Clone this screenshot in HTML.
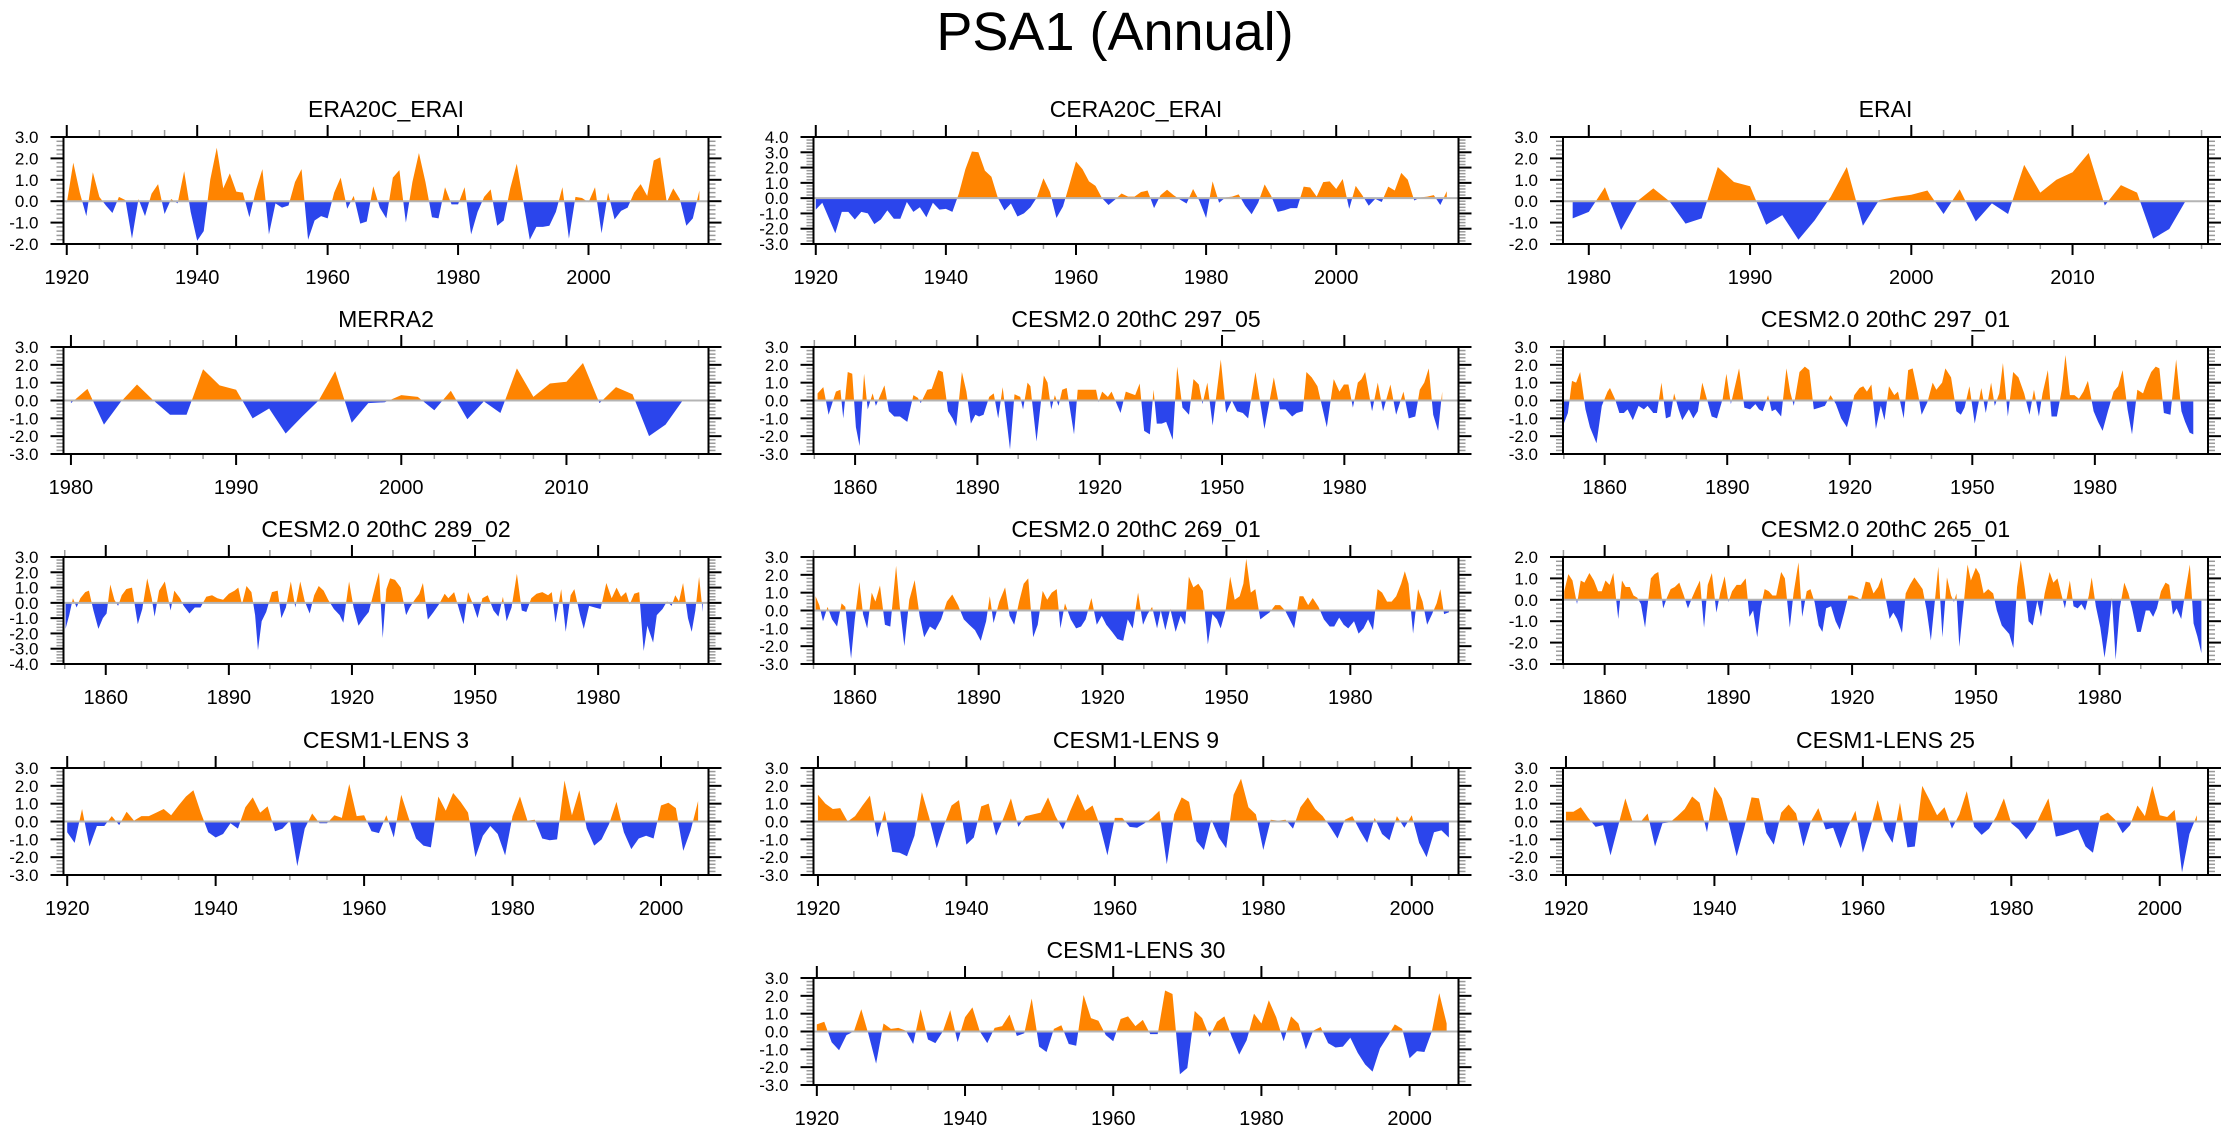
<!DOCTYPE html>
<html><head><meta charset="utf-8"><title>PSA1 (Annual)</title>
<style>
html,body{margin:0;padding:0;background:#fff;}
svg{display:block;font-family:"Liberation Sans",Arial,sans-serif;}
</style></head>
<body>
<svg id="fig" width="2230" height="1133" viewBox="0 0 2230 1133" xmlns="http://www.w3.org/2000/svg">
<rect x="0" y="0" width="2230" height="1133" fill="#fff"/>
<text x="1115" y="50" font-size="54" text-anchor="middle" fill="#000">PSA1 (Annual)</text>
<defs id="defs"></defs>
</svg>
<script>
// ---------- data ----------
const era20cVals = [-0.1,1.8,0.4,-0.7,1.35,0.2,-0.2,-0.55,0.2,0.05,-1.75,0.1,-0.7,0.35,0.8,-0.6,0.1,-0.1,1.4,-0.5,-1.85,-1.4,1.0,2.5,0.6,1.3,0.45,0.4,-0.75,0.5,1.5,-1.55,-0.1,-0.3,-0.2,0.9,1.5,-1.8,-0.9,-0.7,-0.8,0.4,1.1,-0.35,0.25,-1.05,-0.95,0.7,-0.3,-0.8,1.1,1.45,-1.0,0.9,2.25,0.9,-0.75,-0.8,0.65,-0.15,-0.15,0.65,-1.55,-0.5,0.2,0.55,-1.15,-0.9,0.6,1.75,0.0,-1.8,-1.2,-1.2,-1.15,-0.5,0.65,-1.75,0.2,0.15,-0.05,0.65,-1.5,0.4,-0.85,-0.45,-0.3,0.4,0.8,0.25,1.9,2.05,-0.05,0.6,0.1,-1.15,-0.8,0.5];
const ceraVals = [-0.75,-0.3,-1.3,-2.3,-0.9,-0.9,-1.4,-0.9,-1.0,-1.7,-1.4,-0.8,-1.35,-1.35,-0.25,-0.9,-0.6,-1.25,-0.3,-0.75,-0.7,-0.9,0.3,1.9,3.05,3.0,1.8,1.4,0.0,-0.8,-0.35,-1.2,-1.0,-0.6,0.05,1.3,0.4,-1.3,-0.55,0.9,2.4,1.9,1.1,0.8,0.0,-0.45,-0.1,0.3,0.1,0.1,0.4,0.5,-0.65,0.2,0.55,0.2,-0.1,-0.35,0.6,-0.2,-1.3,1.1,-0.3,0.05,0.1,0.25,-0.5,-1.05,-0.3,0.9,0.15,-0.9,-0.8,-0.65,-0.65,0.75,0.7,0.1,1.05,1.1,0.6,1.25,-0.7,0.8,0.2,-0.5,-0.05,-0.25,0.75,0.5,1.65,1.2,-0.15,0.05,0.1,0.2,-0.45,0.45];
const eraiVals = [-0.8,-0.5,0.65,-1.35,0.0,0.6,0.0,-1.05,-0.8,1.6,0.9,0.7,-1.1,-0.65,-1.8,-0.9,0.2,1.6,-1.15,0.05,0.2,0.3,0.5,-0.6,0.55,-0.95,-0.1,-0.6,1.7,0.4,1.0,1.35,2.25,-0.2,0.75,0.4,-1.75,-1.3,0.0];
const merra2Vals = [-0.15,0.65,-1.35,-0.1,0.9,0.0,-0.8,-0.8,1.75,0.85,0.6,-1.0,-0.45,-1.85,-0.9,0.0,1.65,-1.25,-0.15,-0.1,0.3,0.2,-0.55,0.55,-1.05,-0.05,-0.7,1.8,0.2,0.95,1.05,2.1,-0.15,0.75,0.35,-2.0,-1.35,-0.05];

const c29705Years = [1850.8,1852.2,1853.5,1855.3,1856.4,1857.1,1858.2,1859.3,1860.2,1861.1,1862.2,1863.1,1864.3,1865.1,1867.2,1868.3,1869.6,1871,1872.8,1874.3,1875.4,1876.1,1877.7,1878.8,1880.4,1881.5,1882.8,1883.9,1884.8,1886.2,1887.3,1888.4,1889.5,1890.4,1891.5,1892.9,1894,1895.1,1896.2,1898,1899.1,1900.5,1901.2,1902.3,1903,1904.5,1906.3,1907.2,1908.1,1909,1909.9,1910.8,1911.9,1913.7,1914.6,1916.8,1919.1,1919.7,1920.6,1922,1922.9,1925.1,1926.4,1928.7,1929.8,1930.9,1932.3,1933.2,1934,1935.2,1936.3,1937.9,1939,1940.3,1941.9,1943,1944.3,1945.2,1946.4,1947.7,1949.7,1951,1952.4,1953.7,1955.1,1956.4,1958.2,1960.4,1962.7,1964.2,1965.6,1967.2,1968.3,1969.8,1970.7,1972,1973.4,1975.7,1977.4,1978.8,1979.9,1981,1982.1,1983.3,1984.2,1985.1,1986.8,1988.2,1989.5,1991.3,1992.7,1994.5,1995.8,1997.4,1998.5,1999.6,2000.7,2001.8,2003,2004];
const c29705Vals = [0.4,0.75,-0.8,0.5,0.6,-1.0,1.6,1.5,-1.5,-2.55,1.5,-0.5,0.4,-0.3,0.85,-0.6,-0.9,-0.9,-1.2,0.3,0.15,-0.15,0.6,0.65,1.7,1.6,-0.6,-1.0,-1.45,1.6,0.5,-1.3,-0.8,-0.9,-0.8,0.2,0.4,-1.0,0.75,-2.75,0.35,0.2,-0.5,1.0,0.8,-2.3,1.4,1.0,-0.5,0.3,-0.3,0.6,0.7,-1.9,0.6,0.6,0.6,-0.1,0.5,0.2,0.5,-0.7,0.5,0.3,0.95,-1.7,-1.9,0.6,-1.3,-1.3,-1.2,-2.2,1.9,-0.4,-0.8,1.2,0.9,-0.2,1.0,-1.4,2.3,-0.7,0.0,-0.6,-0.7,-1.0,1.6,-1.6,1.3,-0.5,-0.5,-0.9,-0.7,-0.6,1.6,1.3,0.8,-1.5,1.2,0.5,0.9,0.9,-0.4,1.0,1.2,1.6,-0.6,1.0,-0.6,0.9,-0.8,0.5,-1.0,-0.9,0.6,1.0,1.8,-0.8,-1.7,0.5];

const c29701Years = [1850,1851,1852,1853,1854,1855.3,1856.4,1858,1859.3,1860.7,1861.3,1862.5,1863.6,1864.7,1865.6,1866.9,1868.3,1869.6,1870.5,1871.9,1872.8,1873.9,1875,1876.1,1877,1878.1,1879,1880.6,1881.7,1882.8,1883.9,1885,1886.2,1887.5,1888.9,1889.8,1890.9,1892,1892.9,1894.2,1895.6,1896.9,1897.8,1898.7,1900,1900.9,1901.8,1903.2,1904.5,1905.4,1906.3,1907.7,1909,1910.1,1911.2,1912.6,1913.9,1915.3,1916.6,1917.9,1919.3,1920.2,1921.1,1922.4,1923.3,1924.2,1925.3,1926.4,1927.6,1928.5,1929.6,1930.9,1931.8,1933.2,1934.3,1935.4,1936.7,1937.6,1939,1940.3,1941.2,1942.6,1943.4,1944.8,1946.1,1947.2,1948.1,1949.3,1950.6,1952.2,1953.3,1954.6,1955.5,1956.6,1957.5,1958.7,1960,1961.3,1962.7,1964,1965.1,1966.3,1967.2,1968.5,1969.4,1970.7,1971.9,1972.8,1973.9,1975,1976.1,1977.2,1978.3,1979.7,1980.8,1981.9,1983.2,1984.6,1985.7,1986.8,1988,1989.1,1990.4,1991.8,1992.7,1993.8,1994.9,1995.8,1996.9,1998.5,1999.9,2001.2,2002.1,2003.2,2004.1];
const c29701Vals = [-1.3,-0.7,1.1,1.0,1.6,-0.5,-1.5,-2.4,-0.3,0.5,0.7,0.1,-0.7,-0.7,-0.5,-1.1,-0.3,-0.5,-0.3,-0.7,-0.7,1.0,-1.0,-0.9,0.4,-0.5,-1.1,-0.5,-1.0,-0.6,1.0,0.1,-0.9,-1.0,0.1,1.5,-0.2,0.9,1.8,-0.4,-0.5,-0.2,-0.5,-0.6,0.3,-0.6,-0.5,-0.9,1.8,0.5,-0.3,1.6,1.9,1.7,-0.5,-0.4,-0.3,0.3,-0.2,-1.0,-1.5,-0.7,0.3,0.7,0.8,0.5,0.9,-1.6,-0.3,-1.1,0.8,0.3,0.5,-1.0,1.7,1.8,0.4,-0.8,-0.1,1.0,0.6,1.0,1.8,1.3,-0.6,-0.8,-0.4,0.8,-1.3,0.7,-0.7,1.0,-0.3,0.4,2.1,-0.9,1.6,1.3,0.4,-0.8,0.6,-0.9,0.4,1.7,-0.9,-0.9,0.6,2.55,0.3,0.3,0.1,0.5,1.1,-0.6,-1.2,-1.7,-0.6,0.5,0.8,1.7,-0.5,-1.9,0.6,0.4,1.0,1.6,1.9,1.8,-0.7,-0.8,2.3,-0.6,-1.2,-1.8,-1.9];

const c28902Years = [1850.2,1851.1,1852,1852.9,1853.8,1855,1855.9,1857,1858.2,1859.3,1860.2,1861.1,1862.1,1863,1863.9,1865,1866.4,1867.8,1868.9,1870.1,1871.2,1871.9,1873,1874.4,1875.8,1876.7,1878.1,1879,1880.4,1881.7,1883.1,1884.5,1885.9,1887.2,1888.6,1890,1891.4,1892.3,1893.2,1894.3,1895.5,1896.4,1897.1,1898,1899.1,1900.5,1901.9,1902.8,1903.9,1905.1,1906.2,1907.4,1908.5,1909.7,1910.8,1911.9,1913.1,1914.2,1915.6,1917,1917.9,1919.3,1920.4,1921.6,1922.9,1924.1,1925.7,1926.6,1927.5,1928.4,1929.3,1930.5,1931.9,1933.2,1934.1,1935.3,1936.4,1937.3,1938.5,1939.9,1941.2,1942.6,1943.5,1944.9,1946.3,1947.2,1948.3,1949.5,1950.6,1951.8,1953.1,1954.5,1955.7,1956.8,1957.7,1958.9,1960.2,1961.4,1962.5,1963.7,1965,1966.4,1967.8,1968.7,1969.6,1971,1972.1,1973.3,1974.2,1975.6,1976.5,1977.8,1979.2,1980.6,1982,1983.3,1984.5,1985.6,1986.8,1987.7,1988.8,1990,1991.1,1992,1993.4,1994.3,1995.7,1996.8,1997.9,1998.8,1999.7,2000.7,2001.9,2002.8,2003.7,2004.6,2005.5];
const c28902Vals = [-1.7,-0.8,0.3,-0.3,0.3,0.7,0.8,-0.5,-1.7,-1.0,-0.7,1.2,0.2,-0.2,0.5,0.9,1.0,-1.4,-0.4,1.6,0.3,-0.9,0.8,1.4,-0.5,0.8,0.3,-0.2,-0.7,-0.3,-0.3,0.4,0.5,0.3,0.2,0.6,0.8,1.0,-0.1,1.1,0.7,-0.8,-3.1,-1.2,-0.6,0.7,0.8,-1.0,-0.3,1.4,-0.3,1.4,0.1,-0.7,0.5,1.1,0.8,0.2,-0.4,-0.8,-1.3,1.4,-0.3,-1.5,-1.0,-0.6,1.1,2.0,-2.3,0.9,1.6,1.5,1.0,-0.8,-0.3,0.2,0.6,1.3,-1.1,-0.6,-0.1,0.6,0.3,0.7,-0.6,-1.4,0.7,-0.1,-1.0,0.3,0.5,-0.5,-0.9,0.4,-1.2,-0.3,1.9,-0.5,-0.6,0.3,0.6,0.7,0.5,0.7,-1.3,0.9,-1.9,0.5,0.9,-0.8,-1.7,-0.2,-0.3,-0.4,1.3,0.3,1.0,0.4,0.7,-0.1,0.6,0.7,-3.15,-1.5,-2.6,-0.8,-0.4,0.1,-0.2,0.5,0.1,1.3,-1.0,-1.9,-0.5,1.7,-0.6];

const c26901Years = [1850.5,1851.4,1852.3,1853.4,1854.5,1855.7,1856.8,1857.7,1859.1,1860,1861.1,1862,1863,1864.1,1865,1866.1,1867.3,1868.6,1870,1870.9,1872,1873.2,1874.5,1875.7,1876.8,1878.2,1879.5,1880.9,1882.3,1883.6,1885,1886.4,1887.7,1889.1,1890.5,1891.8,1892.7,1893.6,1895,1896.4,1897.5,1898.6,1899.8,1900.9,1902,1903.2,1904.3,1905.5,1906.6,1907.7,1908.9,1909.8,1910.9,1912.3,1913.6,1914.8,1915.9,1917.3,1918.6,1919.8,1920.9,1922.3,1923.6,1925,1926.1,1927.3,1928.6,1929.8,1930.9,1932,1933.2,1934.1,1935.2,1936.4,1937.7,1938.9,1940,1940.9,1942,1943.2,1944.3,1945.5,1946.6,1947.7,1948.6,1949.8,1950.9,1952,1953.2,1954.1,1954.8,1955.9,1957,1958.2,1959.3,1960.5,1961.8,1963,1964.2,1965.3,1966.4,1967.7,1968.6,1969.8,1970.9,1972.3,1973.6,1975,1976.1,1977.3,1978.4,1979.5,1980.9,1982,1983.2,1984.3,1985.5,1986.6,1987.7,1988.9,1990,1991.1,1992.3,1993.2,1994.1,1995.2,1996.4,1997.5,1998.6,1999.8,2000.9,2001.8,2002.7,2003.9];
const c26901Vals = [0.8,0.3,-0.6,0.2,-0.5,-0.9,0.4,0.2,-2.7,-0.5,1.6,-0.2,-1.0,1.0,0.5,1.4,-0.8,-0.9,2.5,0.2,-2.0,0.6,1.7,-0.3,-1.5,-0.9,-1.1,-0.5,0.5,0.9,0.3,-0.5,-0.8,-1.1,-1.7,-0.6,0.8,-0.7,0.5,1.3,-0.3,-0.8,0.5,1.5,1.8,-1.5,-0.8,1.1,0.6,1.0,1.2,-1.0,0.4,-0.5,-1.0,-0.9,-0.5,0.7,-0.8,-0.3,-0.8,-1.2,-1.6,-1.7,-0.5,-1.0,1.0,-0.8,-0.2,0.2,-1.0,0.0,-1.1,0.1,-1.2,-0.3,-0.8,1.9,1.3,1.5,1.1,-1.9,-0.2,-0.5,-1.0,0.0,1.9,0.6,0.8,1.5,2.9,1.0,1.2,-0.5,-0.3,-0.1,0.3,0.3,0.0,-0.5,-1.0,0.8,0.8,0.3,0.7,0.2,-0.5,-0.9,-0.9,-0.4,-0.8,-1.0,-0.6,-1.3,-1.0,-0.5,-1.1,1.2,1.0,0.5,0.5,0.8,1.5,2.2,1.5,-1.3,1.2,0.5,-0.8,-0.2,0.4,1.2,-0.2,-0.1];

const c26501Years = [1850.2,1851.2,1852.2,1853.3,1854.2,1855.1,1856.3,1857.4,1858.4,1859.3,1860.2,1861.2,1862.1,1863.3,1864.2,1865.1,1866.1,1867,1867.9,1868.8,1869.8,1870.2,1871.2,1872.1,1873,1874.2,1875.1,1876,1877,1878.1,1879.2,1880.2,1881.2,1882.1,1883.1,1884.1,1885,1886,1887.1,1888,1889.1,1890,1890.9,1892,1893,1894.2,1895.1,1896,1897,1897.9,1898.8,1899.8,1900.7,1901.6,1902.8,1903.7,1904.9,1905.8,1907,1907.9,1909,1909.9,1910.9,1911.9,1912.8,1913.7,1914.9,1916,1917,1918.1,1919.1,1920,1921.4,1922.1,1923.3,1924.3,1925.2,1926.3,1927.2,1928.1,1929.1,1930,1930.9,1932.1,1933,1934,1935.1,1936,1937.1,1938.1,1939.1,1940.1,1940.9,1941.9,1943,1944,1944.7,1945.3,1946,1947,1948,1948.8,1950,1950.9,1951.9,1953,1954.2,1955.1,1956.3,1957.2,1958.1,1959.1,1960,1960.9,1961.9,1962.8,1963.8,1964.9,1965.8,1966.7,1967.9,1968.8,1969.8,1970.7,1971.6,1972.8,1973.7,1974.7,1975.6,1976.5,1977.4,1978.1,1979.1,1980.2,1981.2,1982.1,1983,1983.9,1984.9,1986,1987,1987.9,1989.1,1990,1991.2,1992.1,1993,1993.9,1994.9,1996,1996.9,1997.8,1998.7,1999.8,2000.9,2001.9,2002.8,2003.7,2004.7];
const c26501Vals = [0.4,1.2,0.9,-0.2,0.9,0.8,1.25,0.9,0.4,0.4,0.9,0.7,1.25,-0.9,0.9,0.6,0.6,0.2,0.1,-0.2,-1.3,-0.6,1.0,1.2,1.3,-0.4,0.1,0.5,0.6,0.8,0.2,-0.4,0.1,0.5,0.9,-1.3,0.7,1.25,-0.6,0.3,1.1,-0.1,0.4,0.7,0.7,1.0,-0.8,-0.5,-1.75,-0.3,0.5,0.4,0.2,0.2,1.3,1.0,-1.3,0.3,1.75,-0.8,0.4,0.5,-0.1,-1.2,-1.5,-0.4,-0.3,-1.0,-1.4,-0.6,0.2,0.2,0.1,-0.05,0.85,0.8,0.3,0.6,1.05,0.1,-0.9,-0.6,-0.9,-1.55,0.3,0.7,1.05,0.8,0.5,-0.5,-1.9,0.0,1.55,-1.75,1.05,0.2,-0.1,0.3,-2.2,-0.3,1.65,0.9,1.5,1.2,0.3,0.5,0.3,-0.5,-1.2,-1.4,-1.6,-2.25,0.6,1.85,0.5,-1.0,-1.2,-0.05,-0.8,0.3,1.3,0.8,1.0,0.3,-0.4,0.9,-0.3,-0.4,-0.2,-0.5,0.2,1.05,-0.3,-1.3,-2.7,-1.5,0.1,-2.8,-0.4,0.8,0.3,-0.4,-1.5,-1.5,-0.5,-0.5,-0.8,-0.4,0.4,0.8,0.7,-0.7,-0.4,-0.9,0.5,1.65,-1.1,-1.7,-2.5];

const lens3Vals = [-0.6,-1.2,0.7,-1.4,-0.25,-0.25,0.3,-0.2,0.55,0.05,0.3,0.3,0.5,0.7,0.35,0.9,1.4,1.75,0.5,-0.6,-0.9,-0.7,-0.1,-0.4,0.8,1.35,0.5,0.85,-0.55,-0.4,0.05,-2.5,-0.4,0.45,-0.1,-0.1,0.35,0.2,2.1,0.3,0.35,-0.55,-0.65,0.35,-0.9,1.5,0.2,-0.95,-1.35,-1.45,1.4,0.6,1.6,1.1,0.5,-2.0,-0.8,-0.25,-0.7,-1.9,0.3,1.4,0.05,0.1,-0.95,-1.05,-1.0,2.3,0.35,1.75,-0.4,-1.35,-1.0,-0.15,1.1,-0.6,-1.55,-0.95,-0.8,-0.95,0.9,1.05,0.75,-1.65,-0.5,1.15];
const lens9Vals = [1.5,1.0,0.7,0.75,0.0,0.3,0.9,1.45,-0.9,0.6,-1.7,-1.75,-1.95,-0.8,1.65,0.2,-1.5,-0.2,0.9,1.2,-1.3,-0.9,0.85,1.0,-0.8,0.2,1.3,-0.3,0.3,0.4,0.5,1.35,0.3,-0.45,0.6,1.55,0.6,0.9,-0.25,-1.9,0.2,0.2,-0.3,-0.35,-0.1,0.2,0.6,-2.4,0.4,1.35,1.1,-1.1,-1.6,0.1,-0.9,-1.5,1.5,2.4,0.8,0.4,-1.6,0.1,0.05,0.1,-0.4,0.8,1.35,0.7,0.3,-0.3,-0.95,0.1,0.3,-0.5,-1.2,0.2,-0.7,-1.05,0.3,-0.35,0.35,-1.2,-2.0,-0.6,-0.5,-0.9];
const lens25Vals = [0.55,0.55,0.8,0.2,-0.3,-0.2,-1.9,-0.3,1.3,-0.05,-0.05,0.45,-1.4,-0.1,-0.05,0.3,0.7,1.4,1.05,-0.6,1.95,1.3,-0.2,-1.95,-0.4,1.35,1.3,-0.65,-1.3,0.5,0.95,0.45,-1.4,0.0,0.75,-0.45,-0.35,-1.5,-0.3,0.6,-1.75,-0.4,1.2,-0.5,-1.2,1.05,-1.45,-1.4,2.0,1.2,0.35,0.8,-0.4,0.4,1.7,-0.3,-0.75,-0.4,0.3,1.3,-0.1,-0.45,-1.0,-0.45,0.45,1.3,-0.85,-0.75,-0.6,-0.45,-1.4,-1.75,0.3,0.5,0.1,-0.65,-0.2,0.9,0.3,2.0,0.35,0.25,0.65,-2.85,-0.7,0.35];
const lens30Vals = [0.4,0.55,-0.6,-1.05,-0.2,0.0,1.25,-0.2,-1.8,0.45,0.15,0.2,0.05,-0.7,1.25,-0.45,-0.65,0.0,1.2,-0.6,0.8,1.35,0.0,-0.65,0.2,0.3,0.95,-0.25,-0.1,1.85,-0.85,-1.15,0.15,0.35,-0.7,-0.8,2.05,0.75,0.6,-0.2,-0.55,0.7,0.85,0.3,0.65,-0.15,-0.15,2.3,2.1,-2.4,-2.05,1.15,0.75,-0.3,0.55,0.85,-0.3,-1.3,-0.5,1.0,0.45,1.75,0.8,-0.55,0.85,0.45,-1.0,0.05,0.25,-0.65,-0.9,-0.85,-0.35,-1.2,-1.85,-2.25,-0.95,-0.3,0.4,0.15,-1.5,-1.1,-1.15,0.0,2.15,0.45];

const panelTitles = ["ERA20C_ERAI","CERA20C_ERAI","ERAI","MERRA2","CESM2.0 20thC 297_05","CESM2.0 20thC 297_01","CESM2.0 20thC 289_02","CESM2.0 20thC 269_01","CESM2.0 20thC 265_01","CESM1-LENS 3","CESM1-LENS 9","CESM1-LENS 25","CESM1-LENS 30"];
const xTicksCentury = [1920,1940,1960,1980,2000];
const xTicksModern = [1980,1990,2000,2010];
const xTicksCesm2 = [1860,1890,1920,1950,1980];

function seq(start, n){ const a=[]; for(let i=0;i<n;i++) a.push(start+i); return a; }

// ---------- layout ----------
const colLeft = [63.5, 813.5, 1563];
const rowTop = [137, 347, 557, 768, 978];
const PW = 645, PH = 107;
const ORANGE = "#ff8400", BLUE = "#2b45ec";

const panels = [
  {t:0,c:0,r:0,xs:seq(1920,era20cVals.length),ys:era20cVals,y0:-2,y1:3,x0:1919.5,x1:2018.4,ticks:xTicksCentury,minor:5},
  {t:1,c:1,r:0,xs:seq(1920,ceraVals.length),ys:ceraVals,y0:-3,y1:4,x0:1919.65,x1:2018.8,ticks:xTicksCentury,minor:5},
  {t:2,c:2,r:0,xs:seq(1979,eraiVals.length),ys:eraiVals,y0:-2,y1:3,x0:1978.4,x1:2018.4,ticks:xTicksModern,minor:2},
  {t:3,c:0,r:1,xs:seq(1980,merra2Vals.length),ys:merra2Vals,y0:-3,y1:3,x0:1979.55,x1:2018.6,ticks:xTicksModern,minor:2},
  {t:4,c:1,r:1,xs:c29705Years,ys:c29705Vals,y0:-3,y1:3,x0:1849.8,x1:2008.0,ticks:xTicksCesm2,minor:10},
  {t:5,c:2,r:1,xs:c29701Years,ys:c29701Vals,y0:-3,y1:3,x0:1849.8,x1:2007.7,ticks:xTicksCesm2,minor:10},
  {t:6,c:0,r:2,xs:c28902Years,ys:c28902Vals,y0:-4,y1:3,x0:1849.7,x1:2006.9,ticks:xTicksCesm2,minor:10},
  {t:7,c:1,r:2,xs:c26901Years,ys:c26901Vals,y0:-3,y1:3,x0:1850.0,x1:2006.2,ticks:xTicksCesm2,minor:10},
  {t:8,c:2,r:2,xs:c26501Years,ys:c26501Vals,y0:-3,y1:2,x0:1849.9,x1:2006.3,ticks:xTicksCesm2,minor:10},
  {t:9,c:0,r:3,xs:seq(1920,lens3Vals.length),ys:lens3Vals,y0:-3,y1:3,x0:1919.5,x1:2006.4,ticks:xTicksCentury,minor:5},
  {t:10,c:1,r:3,xs:seq(1920,lens9Vals.length),ys:lens9Vals,y0:-3,y1:3,x0:1919.4,x1:2006.3,ticks:xTicksCentury,minor:5},
  {t:11,c:2,r:3,xs:seq(1920,lens25Vals.length),ys:lens25Vals,y0:-3,y1:3,x0:1919.6,x1:2006.5,ticks:xTicksCentury,minor:5},
  {t:12,c:1,r:4,xs:seq(1920,lens30Vals.length),ys:lens30Vals,y0:-3,y1:3,x0:1919.55,x1:2006.6,ticks:xTicksCentury,minor:5}
];

const NS = "http://www.w3.org/2000/svg";
const svg = document.getElementById("fig");
const defs = document.getElementById("defs");
function mk(tag, attrs, parent){
  const e = document.createElementNS(NS, tag);
  for (const k in attrs) e.setAttribute(k, attrs[k]);
  (parent||svg).appendChild(e);
  return e;
}

panels.forEach((p, idx) => {
  const L = colLeft[p.c], T = rowTop[p.r];
  const sx = x => L + (x - p.x0) / (p.x1 - p.x0) * PW;
  const sy = v => T + (p.y1 - v) / (p.y1 - p.y0) * PH;
  const slug = panelTitles[p.t].toLowerCase().replace(/[^a-z0-9]+/g,'-');
  const g = mk("g", {});
  
  

  const title = mk("text", {x: L + PW/2, y: T - 20, "font-size": 23, "text-anchor": "middle", fill: "#000"}, g);
  
  
  title.textContent = panelTitles[p.t];

  const zy = sy(0);
  const cpA = mk("clipPath", {id: "pos" + idx}, defs);
  mk("rect", {x: L, y: T, width: PW, height: zy - T}, cpA);
  const cpB = mk("clipPath", {id: "neg" + idx}, defs);
  mk("rect", {x: L, y: zy, width: PW, height: T + PH - zy}, cpB);

  let d = "M" + sx(p.xs[0]).toFixed(2) + "," + zy.toFixed(2);
  for (let i = 0; i < p.xs.length; i++) d += " L" + sx(p.xs[i]).toFixed(2) + "," + sy(p.ys[i]).toFixed(2);
  d += " L" + sx(p.xs[p.xs.length-1]).toFixed(2) + "," + zy.toFixed(2) + " Z";
  const pos = mk("path", {d: d, fill: ORANGE, "clip-path": "url(#pos" + idx + ")"}, g);
  
  
  const neg = mk("path", {d: d, fill: BLUE, "clip-path": "url(#neg" + idx + ")"}, g);
  
  

  const zl = mk("line", {x1: L, x2: L + PW, y1: zy, y2: zy, stroke: "#b4b4b4", "stroke-width": 2}, g);
  
  

  for (let v = p.y0; v <= p.y1 + 1e-9; v += 0.2) {
    const y = sy(v);
    const major = Math.abs(v - Math.round(v)) < 1e-6;
    const len = major ? 13 : 7, col = major ? "#000" : "#9a9a9a";
    mk("line", {x1: L - len, x2: L, y1: y, y2: y, stroke: col, "stroke-width": major ? 2 : 1.5}, g);
    mk("line", {x1: L + PW, x2: L + PW + len, y1: y, y2: y, stroke: col, "stroke-width": major ? 2 : 1.5}, g);
    if (major) {
      const lab = mk("text", {x: L - 25, y: y + 6, "font-size": 17, "text-anchor": "end", fill: "#000"}, g);
      
      
      lab.textContent = Math.round(v).toFixed(1);
    }
  }
  for (let t = Math.ceil(p.x0 / p.minor) * p.minor; t <= p.x1; t += p.minor) {
    const x = sx(t);
    mk("line", {x1: x, x2: x, y1: T - 7, y2: T, stroke: "#9a9a9a", "stroke-width": 1.5}, g);
    mk("line", {x1: x, x2: x, y1: T + PH, y2: T + PH + 5, stroke: "#9a9a9a", "stroke-width": 1.5}, g);
  }
  p.ticks.forEach(t => {
    const x = sx(t);
    mk("line", {x1: x, x2: x, y1: T - 12, y2: T, stroke: "#000", "stroke-width": 2}, g);
    mk("line", {x1: x, x2: x, y1: T + PH, y2: T + PH + 11, stroke: "#000", "stroke-width": 2}, g);
    const lab = mk("text", {x: x, y: T + PH + 40, "font-size": 20, "text-anchor": "middle", fill: "#000"}, g);
    
    
    lab.textContent = String(t);
  });
  const fr = mk("rect", {x: L, y: T, width: PW, height: PH, fill: "none", stroke: "#000", "stroke-width": 2}, g);
  
  
});
</script>
</body></html>
